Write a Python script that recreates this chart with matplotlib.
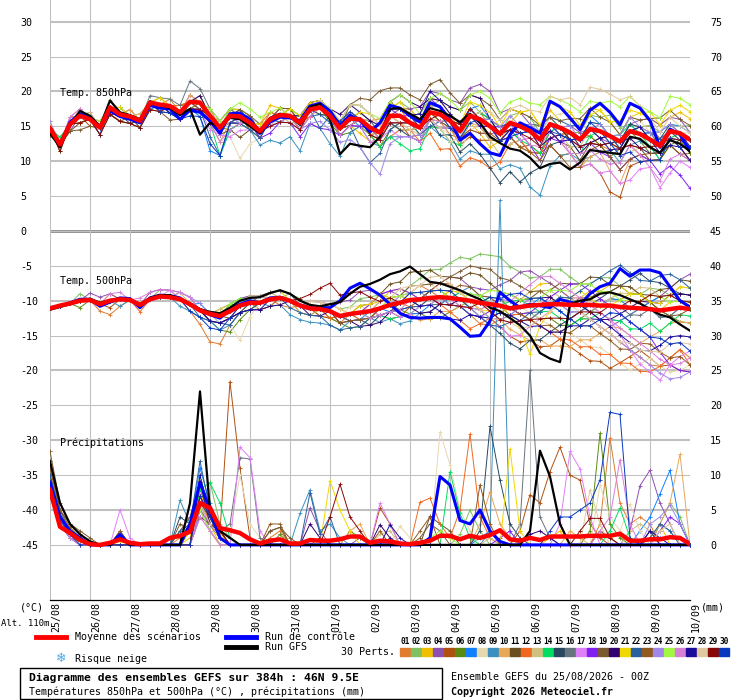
import numpy as np
import matplotlib.pyplot as plt
from matplotlib.lines import Line2D
from matplotlib.patches import Rectangle
from matplotlib.transforms import ScaledTranslation

plt.rcParams['font.family'] = ['DejaVu Sans Mono', 'DejaVu Sans']

# 6-hourly steps of the 384h GEFS run
hours = np.arange(0, 385, 6)
day_labels = ['25/08', '26/08', '27/08', '28/08', '29/08', '30/08', '31/08', '01/09',
              '02/09', '03/09', '04/09', '05/09', '06/09', '07/09', '08/09', '09/09', '10/09']

# Ensemble mean (red), control run (blue), GFS run (black)
t850_mean = [14.7, 12.4, 15.3, 16.5, 16.0, 14.8, 17.7, 16.7, 16.4, 15.8,
             18.4, 18.1, 17.9, 17.0, 18.5, 18.4, 16.5, 14.8, 16.5, 16.4,
             15.5, 14.3, 16.0, 16.6, 16.5, 15.5, 17.4, 17.7, 16.5, 14.7,
             16.1, 16.0, 14.8, 14.1, 16.5, 16.5, 15.5, 14.8, 17.0, 16.7,
             15.8, 14.3, 16.5, 16.0, 15.0, 13.9, 15.5, 15.0, 14.3, 13.1,
             15.3, 14.8, 14.1, 13.1, 14.6, 14.3, 13.6, 12.8, 14.3, 13.9,
             13.1, 12.2, 14.3, 14.0, 13.1]
t850_ctrl = [14.3, 12.2, 15.6, 16.8, 16.2, 15.0, 17.2, 16.4, 16.0, 15.5,
             18.0, 17.6, 17.5, 16.0, 17.3, 17.0, 15.8, 14.0, 16.8, 16.9,
             16.0, 14.0, 15.6, 16.3, 16.2, 15.8, 17.9, 18.3, 17.2, 15.1,
             16.6, 15.8, 14.2, 15.5, 18.0, 17.6, 16.5, 15.6, 18.4, 17.8,
             16.0, 13.0, 14.0, 12.5, 11.2, 10.8, 13.8, 15.5, 14.8, 14.0,
             18.6, 17.8, 16.2, 14.5, 17.3, 18.3, 17.0, 15.2, 18.3, 17.6,
             15.8, 12.0, 14.6, 13.8, 11.4]
t850_gfs = [14.0, 12.0, 15.0, 17.2, 16.5, 15.0, 18.7, 17.0, 16.6, 16.0,
            18.6, 18.0, 17.6, 16.6, 17.5, 13.8, 15.5, 14.9, 16.2, 16.0,
            15.0, 14.0, 16.2, 16.8, 16.5, 15.2, 17.8, 18.2, 16.0, 11.0,
            12.5, 12.2, 12.0, 13.5, 17.5, 17.6, 16.8, 16.0, 17.6, 17.2,
            16.5, 15.6, 16.8, 15.5, 13.5, 12.6, 11.8, 11.5, 10.5, 9.0,
            9.6, 9.8, 8.8, 9.8, 11.6, 11.4, 11.2, 11.0, 13.5, 13.2,
            12.0, 11.2, 13.0, 12.5, 11.4]

t500_mean = [-11.1, -10.7, -10.4, -10.0, -9.9, -10.5, -10.0, -9.8, -9.9, -10.6,
             -9.8, -9.4, -9.5, -9.8, -10.5, -11.4, -11.9, -12.2, -11.5, -10.7,
             -10.3, -10.3, -9.8, -9.6, -10.0, -10.7, -11.1, -11.2, -11.5, -12.2,
             -11.9, -11.7, -11.5, -11.1, -10.6, -10.3, -9.9, -9.8, -9.6, -9.5,
             -9.6, -9.8, -10.0, -10.3, -10.5, -10.7, -11.1, -10.9, -10.7, -10.6,
             -10.5, -10.5, -10.6, -10.6, -10.6, -10.7, -10.7, -10.9, -11.0, -11.1,
             -11.2, -11.4, -11.2, -11.0, -11.2]
t500_ctrl = [-11.0, -10.8, -10.3, -9.8, -9.8, -10.8, -10.2, -9.6, -9.7, -11.0,
             -9.6, -9.2, -9.3, -9.6, -10.6, -11.3, -12.0, -12.5, -11.2, -10.5,
             -10.0, -10.3, -9.6, -9.5, -10.0, -10.6, -11.0, -11.0, -11.0, -10.0,
             -8.2, -7.5, -8.3, -9.2, -10.5, -11.8, -12.4, -12.5, -12.4, -12.4,
             -12.6, -13.8, -15.1, -15.0, -12.9, -8.8, -10.0, -11.0, -10.5, -10.7,
             -11.0, -9.8, -10.2, -10.6, -9.0, -8.0, -7.5, -5.4, -6.5, -5.6,
             -5.6, -6.0, -8.0, -10.0, -10.9]
t500_gfs = [-11.3, -10.9, -10.5, -10.1, -9.7, -10.3, -9.9, -9.7, -9.8, -10.5,
            -9.6, -9.2, -9.2, -9.7, -10.4, -11.2, -11.6, -11.8, -11.0, -10.0,
            -9.6, -9.5, -8.9, -8.5, -9.0, -10.0, -10.6, -10.8, -10.5, -10.2,
            -9.0, -8.0, -7.6, -7.0, -6.2, -5.8, -5.1, -6.2, -7.3, -7.5,
            -8.0, -8.5, -9.2, -9.8, -11.0, -11.5, -12.5, -13.5, -15.0, -17.5,
            -18.3, -18.8, -10.5, -10.0, -9.8, -9.0, -8.8, -9.2, -9.8, -10.4,
            -11.2, -12.0, -12.4, -13.4, -14.3]

precip_mean = [7.9, 2.6, 1.7, 0.7, 0.1, 0.0, 0.3, 0.8, 0.3, 0.1,
               0.2, 0.2, 1.0, 1.3, 1.9, 6.0, 5.3, 2.4, 2.1, 1.7,
               0.8, 0.2, 0.6, 0.8, 0.2, 0.2, 0.7, 0.6, 0.6, 0.8,
               1.2, 1.2, 0.3, 0.6, 0.5, 0.2, 0.1, 0.3, 0.6, 1.3,
               1.3, 0.8, 1.3, 1.0, 1.4, 2.1, 0.8, 0.6, 1.0, 0.7,
               1.2, 1.2, 1.2, 1.2, 1.3, 1.3, 1.3, 1.6, 0.6, 0.6,
               0.8, 0.8, 1.1, 1.0, 0.1]
# precipitation (mm) by time step, dry steps are 0
precip_ctrl = {0: 9, 1: 4, 2: 2, 3: 1, 7: 1.5, 14: 3, 15: 9, 16: 5, 17: 1, 38: 1,
               39: 9.8, 40: 8.6, 41: 3.5, 42: 3, 43: 5, 44: 2, 45: 0.5}
precip_gfs = {0: 12, 1: 6, 2: 3, 3: 1.5, 4: 0.5, 7: 1, 14: 6, 15: 22, 16: 5, 17: 2,
              18: 1, 48: 2, 49: 13.5, 50: 9.8, 51: 3}

pert_colors = ['#E07B30', '#80C060', '#F0C000', '#8E50B0', '#B05010', '#5A8A10',
               '#1080FF', '#E8D8B0', '#3A90C0', '#E8A858', '#6A5020', '#F06820',
               '#D0C080', '#00DD60', '#284860', '#687480', '#E080F8', '#8020F0',
               '#7A5A30', '#300070', '#F0D800', '#2860A0', '#905A20', '#A088E8',
               '#A0F840', '#D880D8', '#1C0C9C', '#E0C8A0', '#880808', '#0838C0']

# 30 perturbations, T850 read as offset from the ensemble mean (degC), one day per group
t850_pert_dev = [
    "0 0 0 1 | 0 1 0 0 | 0 1 0 0 | 1 0 -1 0 | 1 0 -1 -1 | 0 1 1 0 | 1 0 -1 -1 | -1 0 1 0 | 1 2 2 1 | 0 1 0 -1 | -2 -1 0 1 | 0 -1 -2 -3 | -3 -2 -2 -1 | 0 1 -1 -2 | -2 -1 0 1 | 2 1 0 -1 | -1",
    "0 1 0 0 | 0 0 1 0 | 0 0 0 1 | 0 0 0 1 | 0 0 1 1 | 1 0 0 1 | 1 1 0 -1 | 0 -1 -1 0 | 1 0 1 2 | 2 1 1 2 | 2 3 2 1 | 1 0 1 2 | 2 1 0 -1 | 0 1 2 2 | 3 2 1 1 | 2 2 1 1 | 2",
    "1 0 0 -1 | 0 0 0 1 | 0 0 -1 0 | 0 1 0 0 | 0 -1 1 1 | 1 1 2 1 | 0 1 0 0 | 1 -1 -1 -2 | -2 -1 0 1 | 2 1 2 2 | 1 0 -1 -2 | -3 -1 0 2 | 3 2 2 1 | 1 2 3 3 | 2 1 2 3 | 3 3 2 3 | 3",
    "0 0 -1 0 | 1 0 0 1 | 0 0 0 0 | -1 0 1 0 | 0 0 -1 -1 | 0 -1 0 0 | 0 1 1 1 | 0 1 2 2 | 2 1 0 1 | 2 3 3 3 | 3 4 4 5 | 5 3 2 2 | 1 0 -1 0 | 1 1 0 -1 | -1 0 1 2 | 3 3 2 2 | 1",
    "0 0 0 0 | -1 0 0 0 | 1 0 0 0 | 0 1 0 -1 | 0 1 1 0 | -1 0 0 1 | 1 0 0 1 | 1 1 0 0 | -1 0 0 -1 | -2 -1 -1 -2 | -1 -2 -3 -3 | -2 -1 -2 -3 | -2 -2 -3 -4 | -3 -4 -5 -6 | -8 -8 -5 -4 | -3 -2 -2 -3 | -2",
    "0 -1 0 0 | 0 0 -1 -1 | -1 0 0 -1 | 0 -1 -1 0 | -1 0 -2 -1 | -1 -1 0 0 | -1 0 0 0 | -1 -1 -2 -1 | -1 -2 -2 -1 | 0 -1 -2 -2 | -1 0 0 1 | 1 1 0 0 | 1 2 1 0 | -1 0 -1 -2 | -3 -1 0 -1 | -2 -1 -2 -1 | -2",
    "0 0 0 0 | 0 -1 0 0 | 0 -1 -1 0 | 0 -1 -1 -2 | -5 -4 -2 -1 | 0 0 -1 -1 | 0 0 -1 -1 | -1 0 0 -1 | 0 1 1 1 | 1 0 1 1 | 0 1 1 2 | 1 0 -1 -1 | 0 1 1 1 | 1 2 2 1 | 0 0 1 0 | 1 2 1 1 | 1",
    "0 0 1 0 | 0 0 0 -1 | 0 0 0 0 | -1 0 0 -1 | -1 -2 -3 -6 | -3 -1 0 0 | -1 0 0 1 | 0 1 1 0 | 0 0 -1 -1 | 0 -1 -1 -2 | -2 -3 -2 -1 | 0 -1 -2 -1 | 0 1 1 2 | 3 2 0 -1 | 0 1 2 2 | 1 0 1 0 | 1",
    "0 0 0 0 | 0 0 -1 0 | 0 0 0 0 | -1 -1 0 0 | -1 -1 0 -1 | -1 -2 -3 -4 | -3 -4 -2 -3 | -4 -4 -2 -1 | -2 -2 -3 -3 | -2 -2 -2 -3 | -3 -4 -5 -5 | -4 -5 -6 -6 | -8 -8 -6 -4 | -3 -3 -4 -3 | -2 -3 -2 -1 | -1 -2 -1 -1 | -1",
    "0 0 0 1 | 0 0 0 0 | 1 0 0 1 | 0 0 1 0 | -1 -2 -1 0 | 0 0 -1 0 | 0 -1 0 0 | 0 0 -1 0 | -1 0 0 -1 | -1 0 1 0 | -1 -2 -1 -1 | -2 -1 -1 0 | 0 -1 -1 -2 | -3 -4 -4 -3 | -5 -6 -4 -3 | -3 -2 -1 0 | 0",
    "-1 0 -1 -1 | 0 -1 -1 -1 | -1 -1 0 -1 | -1 -1 -1 -1 | 0 -1 -2 -3 | -1 0 0 0 | 0 -1 -1 0 | 0 0 -1 0 | -1 -1 -1 -2 | -1 0 0 -1 | 0 1 0 -1 | -2 -1 -1 -2 | -3 -2 -1 -2 | -2 -3 -2 -1 | 0 -1 -2 -2 | -3 -2 -2 -3 | -3",
    "0 0 1 0 | 0 0 0 0 | 0 0 0 0 | 0 1 0 0 | 0 0 0 0 | 0 0 1 0 | 0 0 -1 0 | 0 0 0 0 | -1 -2 -3 -2 | -1 -2 -3 -5 | -4 -5 -6 -6 | -6 -4 -3 -2 | -3 -2 -2 -1 | 0 -1 -2 -2 | -1 -1 -2 -3 | -3 -2 -1 -2 | -3",
    "0 0 0 0 | 1 0 0 0 | 0 1 0 0 | 0 0 0 1 | 0 1 1 0 | 0 0 0 -1 | 0 0 1 0 | 0 1 0 1 | 1 0 -1 -2 | -1 -1 -2 -2 | -1 -1 0 -1 | -2 -3 -3 -2 | -1 0 0 -1 | -2 -1 0 0 | -1 -2 -3 -2 | -1 0 0 -1 | -1",
    "0 1 0 0 | 0 0 0 1 | 0 0 0 0 | 0 0 0 0 | -1 -4 -2 -1 | 0 0 0 0 | 1 1 0 0 | 0 1 0 0 | -1 -2 -3 -4 | -4 -3 -2 -2 | -3 -2 0 1 | 1 0 -1 -2 | -2 -2 -1 0 | -1 -2 -1 0 | 0 1 1 0 | -1 -2 -1 0 | 0",
    "0 0 0 0 | 0 0 0 0 | -1 0 0 0 | -1 0 0 0 | 0 0 0 1 | 0 -1 0 0 | 0 0 0 -1 | 0 0 -1 -1 | 0 -1 -1 -2 | -2 -2 -1 -3 | -2 -3 -4 -5 | -6 -7 -7 -8 | -6 -4 -3 -2 | 0 -1 -2 -2 | -1 0 1 1 | 0 1 1 0 | 0",
    "0 0 0 0 | 0 0 0 0 | 0 0 1 1 | 1 1 3 2 | 1 1 1 0 | 1 1 0 0 | 0 0 0 0 | 1 0 0 1 | 1 0 -1 -1 | 0 0 -1 -1 | 0 1 1 0 | 0 -1 -1 0 | 1 2 1 0 | -1 0 1 1 | 0 -1 0 1 | 1 0 -1 -1 | 0",
    "0 0 0 0 | 0 0 0 0 | 0 0 0 0 | 0 -1 -1 -1 | -2 -1 -3 -2 | -1 0 0 1 | 0 0 0 0 | 0 -1 -1 -1 | -2 -1 -2 -3 | -2 -2 -1 -2 | -1 -1 -2 -2 | -1 0 0 -2 | -1 0 0 -1 | -3 -4 -5 -6 | -5 -6 -7 -5 | -4 -6 -6 -4 | -4",
    "0 0 0 0 | 0 0 -1 0 | 0 0 0 0 | 0 0 0 -1 | 0 0 0 0 | 0 -1 -2 -1 | -1 -2 -2 -3 | -2 -1 -1 -1 | 0 1 1 0 | 1 2 2 1 | 0 1 1 0 | 0 1 0 -1 | -2 -3 -2 -2 | -1 -1 -2 -3 | -3 -4 -4 -3 | -3 -4 -5 -6 | -7",
    "-1 0 -1 -2 | -1 0 -1 -1 | 0 -1 -1 -1 | -2 -1 0 -1 | -1 0 0 1 | 1 0 0 1 | 1 0 0 1 | 1 0 2 3 | 4 6 4 4 | 4 4 4 5 | 4 4 3 3 | 3 2 2 2 | 2 2 1 1 | 2 3 3 2 | 2 1 2 2 | 3 4 3 2 | 2",
    "0 0 0 0 | 0 0 0 0 | 0 0 0 0 | 0 0 0 1 | 0 0 -1 -1 | 0 0 0 0 | 0 1 1 1 | 1 2 2 1 | 1 1 2 3 | 3 3 2 2 | 2 3 3 3 | 1 0 -1 -1 | 0 -1 -2 -1 | -1 -2 -2 -1 | 0 0 -1 -2 | -2 -1 0 0 | -1",
    "0 0 0 0 | 0 0 0 1 | 0 0 0 1 | 0 0 0 0 | 0 0 0 0 | 0 1 0 0 | 1 1 1 1 | 1 1 0 1 | 2 1 1 2 | 1 0 -1 -1 | 0 1 2 2 | 2 1 2 2 | 3 2 3 3 | 3 2 2 3 | 2 3 3 3 | 4 3 3 4 | 4",
    "0 0 0 0 | 0 -1 0 0 | 0 0 0 0 | 0 0 -1 -1 | -3 -4 -1 -1 | -1 -1 0 -1 | 0 0 0 -3 | 0 -1 -1 -4 | -5 -3 -2 -1 | 0 -1 -2 -1 | -1 0 1 0 | 1 1 0 -1 | 0 0 -1 -1 | -1 0 1 1 | 0 -1 0 0 | 1 1 0 -1 | -1",
    "0 0 0 -1 | 0 0 0 0 | 0 0 0 0 | 0 0 0 0 | -1 0 -1 0 | 0 0 0 0 | 0 -1 0 0 | 0 0 -1 0 | 0 -1 -1 -1 | 0 0 0 -1 | -1 -1 -2 -2 | -1 -1 -2 -3 | -3 -3 -3 -4 | -5 -4 -3 -2 | -3 -4 -4 -3 | -2 -1 -1 -2 | -3",
    "1 0 1 1 | 0 1 0 0 | 0 0 0 0 | 0 0 0 0 | 0 0 0 -1 | 0 0 -1 -1 | -1 -1 -2 -2 | -2 -2 -3 -4 | -5 -6 -4 -3 | -2 -1 -1 -2 | -1 0 0 0 | 1 1 1 0 | 1 1 0 0 | 1 0 0 1 | 0 1 2 1 | 1 2 1 0 | 0",
    "0 0 0 0 | 0 1 0 0 | 0 0 0 0 | 0 0 0 0 | 1 1 1 2 | 2 2 1 1 | 0 0 0 1 | 1 1 2 2 | 2 2 2 3 | 3 2 2 3 | 3 3 3 4 | 4 3 3 4 | 4 5 4 4 | 4 4 4 4 | 5 5 5 4 | 4 4 5 5 | 5",
    "0 0 1 1 | 0 0 0 0 | 0 0 0 0 | 0 0 0 0 | -1 -2 -2 -1 | 0 0 -1 -1 | 0 -1 -1 0 | 0 -1 -1 0 | 0 -1 -1 -1 | 0 0 -1 -1 | 0 0 0 -1 | 0 -1 -1 -1 | -2 -1 -1 -2 | -3 -2 -3 -4 | -4 -3 -2 -3 | -4 -5 -4 -3 | -3",
    "0 0 0 0 | 0 0 0 0 | 0 0 0 0 | -1 -1 -1 -1 | -1 0 0 0 | 0 0 0 0 | 0 0 0 0 | 0 0 0 0 | 0 0 1 1 | 1 2 3 2 | 1 1 0 -1 | 0 -1 -1 0 | 0 0 -1 -2 | -1 0 0 -1 | -2 -1 0 1 | 0 -1 -2 -2 | -3",
    "0 0 0 0 | 0 0 0 0 | 0 0 0 0 | 0 0 0 0 | 0 0 -1 0 | 0 0 0 0 | 0 0 0 1 | 1 1 2 2 | 2 1 0 -1 | -1 0 -1 -2 | -3 -1 0 1 | 2 2 2 3 | 3 4 4 4 | 5 5 6 6 | 6 6 5 4 | 3 2 2 1 | 1",
    "0 -1 0 -1 | 0 -1 -1 -1 | -1 -1 -1 -1 | 0 -1 -1 -1 | 0 0 0 0 | 0 0 -1 -1 | -1 -1 0 0 | 0 0 0 0 | -1 -1 -1 -1 | 0 0 -1 0 | 0 1 1 0 | 0 0 -1 -1 | -1 -1 0 0 | -1 -1 -2 -2 | -1 -1 -2 -2 | -1 0 -1 -1 | 0",
    "0 0 0 0 | 0 0 0 0 | 0 0 0 -1 | -1 -1 -2 -2 | -4 -4 -1 0 | 0 0 0 0 | 0 0 0 0 | 0 1 1 0 | 0 0 1 1 | 1 0 0 0 | -1 -1 -1 0 | 0 -1 -2 -1 | 0 1 0 -1 | -1 0 1 0 | -1 -2 -3 -4 | -3 -2 -1 -2 | -1",
]

# 30 perturbations, T500 offset from the ensemble mean (degC)
t500_pert_dev = [
    "0 0 0 0 | 0 -1 -2 -1 | 0 0 0 0 | 0 0 -1 -2 | -4 -4 -2 -1 | -1 0 0 -1 | -1 0 0 -1 | -1 -1 0 0 | 0 -1 -1 0 | 1 2 1 0 | -1 -1 -2 -3 | -3 -2 -1 -1 | -2 -3 -4 -4 | -3 -2 -2 -3 | -4 -5 -6 -7 | -8 -8 -7 -6 | -7",
    "0 0 0 1 | 0 0 0 0 | 0 0 0 1 | 1 0 0 0 | 0 1 1 1 | 1 0 0 0 | 1 1 0 0 | 1 1 1 2 | 2 2 1 1 | 2 3 4 4 | 5 6 6 7 | 7 7 6 5 | 4 4 5 5 | 4 3 3 4 | 4 3 2 2 | 3 3 2 2 | 2",
    "0 0 0 0 | 0 0 1 0 | 0 0 0 0 | 0 0 0 0 | 0 1 1 0 | 0 0 1 1 | 0 0 0 0 | 1 1 0 0 | 1 1 2 2 | 1 1 0 0 | 1 1 0 -1 | -2 -1 0 1 | 2 3 3 2 | 1 1 2 2 | 3 3 2 2 | 1 0 1 1 | 0",
    "0 0 0 0 | 1 1 1 0 | 0 0 1 1 | 1 1 1 0 | 0 0 1 1 | 1 1 0 0 | 0 0 1 1 | 1 2 2 3 | 3 2 2 1 | 0 0 1 2 | 3 3 2 2 | 2 3 4 5 | 5 4 3 2 | 1 0 -1 -2 | -3 -2 -1 0 | 1 2 3 4 | 5",
    "0 0 0 0 | 0 0 -1 0 | 0 0 0 0 | 0 0 0 0 | 0 0 0 0 | 0 -1 -1 0 | 0 0 0 -1 | -1 0 0 -1 | -1 -1 -2 -2 | -1 0 1 2 | 2 1 0 -1 | -2 -3 -4 -5 | -5 -6 -6 -5 | -6 -7 -8 -8 | -9 -8 -7 -6 | -7 -8 -8 -9 | -9",
    "0 0 0 -1 | 0 0 0 0 | 0 0 0 0 | 0 0 0 0 | -1 -2 -3 -2 | -1 0 0 0 | 0 -1 -1 0 | -1 -1 -2 -2 | -1 0 0 -1 | -2 -2 -3 -3 | -2 -1 0 0 | 1 1 0 -1 | -1 -2 -2 -3 | -3 -2 -1 0 | 1 1 2 2 | 1 0 -1 -2 | -2",
    "0 0 0 0 | 0 0 0 0 | 0 0 0 0 | 0 0 0 1 | 0 -1 -1 0 | 0 0 0 0 | 0 0 0 0 | 0 0 -1 -1 | 0 0 -1 -2 | -2 -2 -1 -1 | 0 0 -1 -1 | -2 -1 -1 0 | 0 1 0 -1 | -2 -1 0 0 | 1 1 0 0 | 1 2 2 1 | 1",
    "0 0 0 0 | 0 0 0 0 | 0 0 0 0 | 0 0 0 0 | 0 -1 -2 -5 | -2 0 1 0 | 0 0 0 0 | 0 0 1 1 | 0 0 0 1 | 1 2 2 1 | 1 0 0 1 | 2 2 1 0 | -1 -2 -3 -4 | -4 -5 -6 -6 | -7 -8 -9 -8 | -7 -8 -9 -9 | -8",
    "0 0 0 0 | 0 0 0 -1 | 0 0 0 0 | 0 -1 -1 -1 | -1 -2 -2 -1 | 0 0 -1 -1 | -2 -2 -2 -2 | -2 -2 -1 -1 | -1 -2 -2 -3 | -3 -2 -2 -1 | 0 1 2 1 | 1 0 -1 -2 | -2 -1 0 1 | 1 0 -1 -1 | -2 -2 -1 0 | 0 -1 -1 0 | 0",
    "0 0 0 0 | 0 0 0 0 | 0 0 0 0 | 0 1 0 0 | 0 0 0 0 | 0 0 0 0 | 0 -1 -1 0 | 0 0 0 0 | -1 -1 -1 -2 | -2 -3 -3 -2 | -2 -1 0 0 | -1 -2 -3 -4 | -5 -5 -6 -6 | -6 -5 -5 -4 | -3 -3 -4 -5 | -4 -3 -2 -2 | -2",
    "0 0 0 0 | 0 0 0 0 | 0 0 0 0 | 0 0 0 0 | 0 0 -1 -1 | 0 0 0 0 | 0 0 0 0 | 0 0 0 1 | 1 2 3 3 | 4 4 4 3 | 3 3 4 4 | 3 2 2 1 | 1 2 2 3 | 3 3 4 4 | 3 3 3 2 | 2 3 3 4 | 4",
    "0 0 0 0 | 0 0 0 0 | 0 -1 0 0 | 0 0 0 0 | -1 -1 -1 0 | 0 0 0 0 | 0 0 0 0 | -1 0 0 0 | 0 0 0 0 | -1 -1 0 -1 | -2 -3 -4 -3 | -2 -2 -1 -1 | -2 -3 -4 -5 | -5 -6 -6 -7 | -7 -8 -8 -9 | -9 -8 -7 -6 | -8",
    "0 0 0 0 | 0 0 0 0 | 0 0 0 0 | 0 0 0 0 | 0 1 1 0 | 1 1 1 0 | 0 0 1 1 | 0 0 0 0 | 0 0 1 1 | 1 0 0 0 | 0 -1 -1 -1 | 0 0 1 1 | 2 2 2 1 | 1 0 0 0 | 1 2 2 3 | 3 2 2 3 | 3",
    "0 0 0 0 | 0 0 0 0 | 0 0 0 0 | 0 0 0 0 | 0 0 1 1 | 0 0 0 0 | 0 0 0 0 | 0 0 0 0 | -1 -1 -2 -2 | -2 -1 -1 0 | 0 1 1 1 | 0 0 1 1 | 0 -1 -1 -2 | -3 -2 -2 -1 | -2 -2 -3 -3 | -2 -3 -2 -1 | -1",
    "0 0 0 0 | 0 0 0 0 | 0 0 0 0 | 0 0 0 0 | 0 0 0 0 | 0 0 0 0 | 0 0 0 0 | 0 0 -1 -1 | -2 -1 -1 0 | 0 0 1 1 | 0 0 -1 -2 | -3 -4 -5 -6 | -5 -5 -4 -3 | -2 -1 0 1 | 2 3 4 5 | 4 4 3 2 | 2",
    "0 0 0 0 | 0 0 0 0 | 0 0 0 0 | 0 0 0 0 | 0 0 0 0 | 0 1 1 1 | 1 0 0 0 | 0 0 -1 -1 | -1 0 0 0 | 0 -1 -1 -1 | -1 0 0 0 | 0 0 -1 -2 | -2 -1 0 0 | -1 -1 0 0 | 0 0 -1 -1 | 0 -1 -1 0 | 0",
    "0 0 0 0 | 0 0 0 0 | 0 0 0 0 | 1 0 0 0 | 0 0 0 0 | 0 0 0 0 | 0 0 0 0 | 0 0 0 0 | 0 -1 -1 -2 | -2 -1 -1 0 | 0 -1 -2 -2 | -3 -3 -4 -4 | -3 -2 -1 0 | 1 1 0 -1 | -2 -4 -6 -8 | -9 -10 -8 -7 | -6",
    "0 0 0 0 | 0 0 0 0 | 0 0 0 0 | 0 0 0 0 | 0 0 0 0 | 0 0 0 0 | 0 0 0 0 | 0 0 0 0 | 1 2 2 2 | 1 0 0 -1 | -1 -1 -2 -2 | -1 0 0 -1 | -1 0 1 2 | 3 3 2 1 | 0 -1 -2 -3 | -4 -6 -8 -9 | -9",
    "0 0 0 0 | 0 0 0 0 | 0 0 0 0 | 0 0 0 0 | 0 0 0 0 | 0 0 0 0 | 0 0 0 0 | 0 0 0 0 | 0 1 1 1 | 2 2 2 2 | 3 4 5 5 | 5 4 4 3 | 2 2 1 0 | 0 1 1 2 | 2 3 3 2 | 1 0 -1 -1 | 0",
    "0 0 0 0 | 0 0 0 0 | 0 0 0 0 | 0 0 0 0 | -1 -1 -1 -1 | -1 -1 -1 -1 | 0 0 -1 -1 | 0 -1 -1 -2 | -2 -2 -1 -1 | -1 -2 -2 -1 | -1 0 0 0 | 0 0 0 1 | 1 1 1 0 | 0 0 -1 -2 | -2 -1 0 1 | 1 1 2 2 | 2",
    "0 0 0 0 | 0 0 0 0 | 0 0 0 0 | 0 0 0 0 | 0 0 0 0 | 0 0 0 0 | 0 0 0 0 | 0 0 0 1 | 1 2 1 1 | 0 0 0 0 | 1 1 0 -1 | -1 0 -1 -3 | -7 -3 -1 0 | 1 2 1 0 | 0 1 2 2 | 1 1 2 3 | 3",
    "0 0 0 0 | 0 0 0 0 | 0 0 0 0 | 0 0 0 -1 | -1 -1 -2 -1 | -1 0 0 0 | -1 -1 -1 -1 | -2 -2 -2 -2 | -1 -1 -1 -1 | -1 -1 0 0 | -1 -1 -2 -2 | -3 -3 -2 -2 | -1 -1 0 1 | 1 2 3 4 | 5 6 5 4 | 4 5 5 4 | 3",
    "0 0 0 0 | 0 0 0 0 | 0 0 0 0 | 0 0 0 0 | 0 0 0 0 | 0 0 0 0 | 0 0 0 0 | 0 -1 -1 -1 | -1 0 0 0 | 0 0 1 1 | 1 2 2 1 | 1 0 0 -1 | -2 -3 -3 -4 | -4 -3 -3 -4 | -5 -6 -6 -5 | -5 -6 -7 -7 | -8",
    "0 0 0 0 | 0 0 0 0 | 0 0 0 0 | 0 1 1 1 | 0 0 0 0 | 0 0 0 0 | 0 0 0 0 | 0 0 0 0 | 0 0 0 1 | 1 1 0 0 | -1 -1 -1 -2 | -2 -2 -1 0 | 1 1 0 0 | -1 -1 -2 -3 | -4 -5 -6 -7 | -8 -9 -10 -10 | -9",
    "0 0 0 0 | 0 0 0 0 | 0 0 0 0 | 0 0 0 0 | 0 0 1 1 | 0 0 0 0 | 0 0 0 0 | 0 0 0 0 | 0 0 1 1 | 1 1 1 1 | 0 0 1 1 | 2 2 2 1 | 1 1 2 2 | 2 3 3 2 | 2 1 1 1 | 2 2 1 1 | 1",
    "0 0 0 0 | 0 0 1 1 | 0 1 1 1 | 1 1 1 0 | 0 0 0 0 | 0 0 0 0 | 0 0 0 0 | 0 0 0 0 | -1 -1 -1 -1 | 0 0 0 0 | 0 -1 -1 -1 | 0 1 1 2 | 3 4 4 3 | 2 1 0 -1 | -2 -3 -4 -5 | -6 -7 -8 -8 | -7",
    "0 0 0 0 | 0 0 0 0 | 0 0 0 0 | 0 0 0 0 | -1 -1 -1 -1 | -1 -1 0 0 | 0 0 0 0 | 0 0 0 0 | 0 0 0 0 | 0 -1 -1 -2 | -3 -3 -2 -2 | -2 -1 -1 -2 | -3 -3 -4 -4 | -3 -3 -2 -2 | -3 -4 -5 -6 | -6 -5 -4 -4 | -4",
    "0 0 0 0 | 0 0 0 0 | 0 0 0 0 | 0 0 0 0 | 0 0 0 0 | 0 0 0 0 | 0 0 1 1 | 1 1 0 0 | 0 1 1 2 | 2 2 3 3 | 2 1 0 -1 | -2 -2 -2 -3 | -3 -2 -1 0 | 0 -1 -2 -3 | -4 -5 -5 -6 | -6 -6 -5 -5 | -5",
    "0 0 0 0 | 0 0 0 0 | 0 0 0 0 | 0 0 0 0 | 0 0 0 0 | 0 0 0 0 | 0 1 2 3 | 4 3 3 3 | 2 1 1 0 | 0 0 0 -1 | -1 -1 -1 0 | -1 -2 -2 -2 | -2 -2 -2 -2 | -2 -1 -1 -1 | 0 0 1 1 | 2 2 2 1 | 1",
    "0 0 0 0 | 0 0 0 0 | 0 0 0 0 | 0 0 -1 -1 | -2 -2 -1 0 | 0 0 0 0 | 0 0 0 0 | 0 0 0 0 | 0 0 0 0 | 1 1 1 1 | 1 0 0 0 | 1 1 2 2 | 1 1 0 -1 | -2 -3 -3 -2 | -1 -1 -2 -3 | -4 -4 -5 -5 | -6",
]

# 30 perturbations, precipitation (mm) at the wet time steps
precip_pert = [
    {0: 9.5, 1: 4, 2: 2, 3: 1, 13: 1, 14: 3, 15: 7, 16: 4, 17: 2, 22: 1, 23: 2, 55: 3, 56: 15.3, 57: 6, 58: 3, 59: 4, 60: 3},
    {0: 8, 1: 3.5, 2: 1.5, 3: 0.5, 14: 2, 15: 5, 16: 9, 17: 3, 18: 1, 41: 1.5, 42: 5, 43: 2, 61: 3, 62: 6, 63: 4},
    {0: 10, 1: 4, 2: 2.5, 3: 1, 7: 0.5, 14: 1, 15: 8, 16: 3, 50: 1, 51: 2, 60: 1, 61: 3},
    {0: 7, 1: 3, 2: 1, 3: 0.5, 15: 6, 16: 3, 17: 1, 26: 5.3, 27: 2, 31: 1, 58: 2, 59: 8.5, 60: 10.7, 61: 6, 62: 3},
    {0: 11, 1: 5, 2: 2, 3: 1, 7: 2, 15: 5, 16: 3, 17: 2, 18: 23.4, 19: 11, 20: 1, 33: 5.3, 34: 3, 47: 2, 48: 7.2, 49: 6, 50: 10.5, 51: 14, 52: 10, 53: 9.3, 54: 3, 55: 1},
    {0: 8, 1: 4, 2: 2, 3: 1, 14: 2, 15: 6, 16: 3, 17: 1, 23: 1.5, 30: 2, 31: 1, 54: 2, 55: 16, 56: 3, 57: 1},
    {0: 7.5, 1: 3, 2: 1, 14: 3, 15: 11, 16: 6, 17: 2, 43: 1, 44: 2, 59: 2, 60: 4, 61: 7.3, 62: 10.7, 63: 3},
    {0: 9, 1: 4, 2: 2, 3: 1, 15: 4, 16: 2, 18: 2, 19: 10, 20: 3, 21: 1, 35: 2.7, 36: 1, 39: 16.2, 40: 11.5, 41: 5, 42: 2, 55: 8.6, 56: 4, 57: 2, 58: 5.8, 59: 2},
    {0: 10, 1: 5, 2: 2, 3: 1, 13: 6.4, 14: 3, 15: 8, 16: 4, 17: 1, 25: 4.5, 26: 7.9, 27: 2, 28: 3, 29: 1, 44: 2, 45: 49.4, 46: 1, 61: 3, 62: 2},
    {0: 8.5, 1: 3, 2: 1.5, 3: 0.5, 14: 2, 15: 5, 16: 2, 30: 2, 31: 3, 43: 3, 44: 7.6, 45: 3, 46: 1, 52: 2, 53: 1, 61: 3, 62: 6, 63: 13},
    {0: 12, 1: 5, 2: 3, 3: 1.5, 4: 0.5, 13: 2, 14: 4, 15: 9, 16: 4, 17: 2, 22: 2, 23: 2.5, 38: 4.1, 39: 3, 40: 2, 55: 2, 56: 1},
    {0: 9, 1: 4, 2: 1.5, 3: 0.5, 15: 7, 16: 3, 17: 1, 27: 1, 37: 6.1, 38: 6.7, 39: 3, 40: 1, 41: 5, 42: 15.9, 43: 4, 44: 1},
    {0: 7, 1: 3, 2: 1, 14: 2, 15: 4, 16: 3, 17: 1, 33: 1.5, 34: 2, 44: 1, 58: 2, 59: 3, 60: 2},
    {0: 8, 1: 3, 2: 1, 3: 0.5, 15: 8, 16: 8.9, 17: 6, 18: 1, 40: 10.5, 41: 4.5, 42: 1, 56: 2, 57: 5.3, 58: 1},
    {0: 10, 1: 4.5, 2: 2, 3: 1, 13: 4, 14: 3, 15: 6, 16: 4, 17: 1, 43: 2, 44: 17, 45: 9.3, 46: 3, 47: 1},
    {0: 9, 1: 4, 2: 2, 3: 1, 15: 5, 16: 3, 17: 2, 18: 3, 19: 12.5, 20: 12.3, 21: 1, 47: 3, 48: 25, 49: 4, 50: 1},
    {0: 8, 1: 3.5, 2: 1.5, 3: 0.5, 7: 5, 8: 1, 15: 6, 16: 2, 19: 14, 20: 12.5, 21: 2, 33: 6, 34: 3, 51: 3, 52: 13.4, 53: 10.9, 54: 4},
    {0: 7, 1: 3, 2: 1, 15: 4, 16: 3, 17: 1, 45: 1, 46: 2, 61: 2, 62: 4, 63: 3},
    {0: 13.4, 1: 6, 2: 3, 3: 2, 4: 1, 7: 2, 13: 3, 14: 2, 15: 4, 16: 3, 17: 2, 22: 2, 23: 2.5, 24: 1, 37: 1, 38: 3, 39: 2},
    {0: 9, 1: 4, 2: 2, 3: 1, 15: 9, 16: 3, 17: 1, 26: 3, 27: 1, 33: 2.9, 34: 1, 48: 1.5, 49: 2, 50: 1, 60: 2},
    {0: 8, 1: 3, 2: 1.5, 14: 2, 15: 10, 16: 4, 17: 1.5, 28: 9.2, 29: 5, 30: 2, 46: 13.8, 47: 2},
    {0: 10, 1: 4, 2: 2, 3: 1, 13: 2, 14: 3, 15: 12, 16: 5, 17: 1, 26: 7.5, 27: 1.5, 28: 4, 60: 1, 61: 3, 62: 2},
    {0: 11, 1: 5, 2: 2.5, 3: 1, 15: 7, 16: 4, 17: 2, 22: 3, 23: 3, 33: 2, 37: 2, 38: 4, 43: 8.6, 44: 3},
    {0: 8, 1: 3, 2: 1, 15: 5, 16: 2, 60: 3, 61: 4, 62: 5.7, 63: 3},
    {0: 9, 1: 3.5, 2: 1.5, 3: 0.5, 14: 2, 15: 5, 16: 2, 38: 1, 39: 2, 40: 1},
    {0: 8, 1: 3, 2: 1, 15: 4, 16: 2, 55: 2, 56: 4, 57: 12.2, 58: 3},
    {0: 9, 1: 4, 2: 2, 3: 1, 15: 10, 16: 4, 17: 1, 34: 2.9, 35: 1, 60: 2, 61: 1},
    {0: 9, 1: 4, 2: 2, 3: 1, 15: 6, 16: 3, 17: 1, 54: 7.9, 55: 3, 61: 2, 62: 3},
    {0: 9, 1: 4, 2: 2, 3: 1, 15: 7, 16: 4, 17: 2, 28: 4, 29: 8.7, 30: 4, 31: 2, 53: 2, 54: 3.8, 55: 3.8, 56: 1},
    {0: 8, 1: 3.5, 2: 1.5, 15: 7, 16: 4, 17: 1, 50: 2, 51: 4, 52: 4, 53: 5, 54: 6, 55: 9.3, 56: 19, 57: 18.7, 58: 1},
]

PRECIP_BASE = -45  # precipitation 0 mm sits on the -45 line of the temperature scale
W, H = 740, 700


def parse_rows(rows, name):
    out = []
    for i, r in enumerate(rows):
        vals = np.array(r.replace('|', ' ').split(), dtype=float)
        assert vals.size == len(hours), f'{name} member {i + 1}: {vals.size}'
        out.append(vals)
    return np.array(out)


def rain_series(wet):
    vals = np.zeros(len(hours))
    for k, v in wet.items():
        vals[k] = v
    return vals


t850_pert = np.array(t850_mean) + parse_rows(t850_pert_dev, 't850')
t500_pert = np.array(t500_mean) + parse_rows(t500_pert_dev, 't500')
rain_pert = np.array([rain_series(d) for d in precip_pert])

fig = plt.figure(figsize=(W / 100, H / 100), dpi=100)
ax = fig.add_axes([50 / W, 100 / H, 640 / W, 600 / H])
ax.set_xlim(0, 384)
ax.set_ylim(-52.9, 33.1)

# grid
for v in range(-45, 31, 5):
    if v == 0:
        ax.axhline(v, color='#8a8a8a', lw=2.0, zorder=1)
        ax.axhline(v, color='#d8d8d8', lw=0.5, zorder=1)
    else:
        ax.axhline(v, color='#c0c0c0', lw=1.5 if v % 10 == 0 else 0.75, zorder=1)
for h in range(0, 385, 24):
    ax.axvline(h, color='#c0c0c0', lw=0.75, zorder=1)

for s in ['left', 'right', 'top']:
    ax.spines[s].set_visible(False)
ax.spines['bottom'].set_color('black')
ax.spines['bottom'].set_linewidth(0.9)

# perturbations
for i in range(30):
    kw = dict(color=pert_colors[i], lw=0.7, marker='+', ms=2.6, mew=0.6, zorder=2)
    ax.plot(hours, t850_pert[i], **kw)
    ax.plot(hours, t500_pert[i], **kw)
    ax.plot(hours, PRECIP_BASE + rain_pert[i], **kw)

# control and GFS runs
for t850, t500, rain, col, lw in [(t850_ctrl, t500_ctrl, precip_ctrl, '#0000FF', 2.2),
                                  (t850_gfs, t500_gfs, precip_gfs, 'black', 1.6)]:
    ax.plot(hours, t850, color=col, lw=lw, zorder=3)
    ax.plot(hours, t500, color=col, lw=lw, zorder=3)
    ax.plot(hours, PRECIP_BASE + rain_series(rain), color=col, lw=lw, zorder=3)

# ensemble mean
ax.plot(hours, t850_mean, color='#FF0000', lw=3.2, zorder=4)
ax.plot(hours, t500_mean, color='#FF0000', lw=3.2, zorder=4)
ax.plot(hours, PRECIP_BASE + np.array(precip_mean), color='#FF0000', lw=3.2, zorder=4)

fs = 7.2
ax.text(6, 19.7, 'Temp. 850hPa', fontsize=fs, va='center', zorder=5)
ax.text(6, -7.2, 'Temp. 500hPa', fontsize=fs, va='center', zorder=5)
ax.text(6, -30.4, 'Précipitations', fontsize=fs, va='center', zorder=5)

# left scale (degC), right scale (mm)
left_ticks = list(range(-45, 31, 5))
ax.set_yticks(left_ticks, [str(v) for v in left_ticks], fontsize=fs, ha='left')
ax.tick_params(axis='y', length=0, pad=30 * 0.72)
ax2 = ax.twinx()
ax2.set_ylim(-52.9 - PRECIP_BASE, 33.1 - PRECIP_BASE)
right_ticks = list(range(0, 76, 5))
ax2.set_yticks(right_ticks, [str(v) for v in right_ticks], fontsize=fs)
ax2.tick_params(axis='y', length=0, pad=20 * 0.72)
for s in ax2.spines.values():
    s.set_visible(False)

ax.set_xticks(np.arange(0, 385, 24), day_labels, rotation=90, fontsize=fs, va='top')
ax.tick_params(axis='x', length=0, pad=1.5)
for lbl in ax.get_xticklabels():
    lbl.set_transform(lbl.get_transform() + ScaledTranslation(6 / 100, 0, fig.dpi_scale_trans))


def fx(x):
    return x / W


def fy(y):
    return 1 - y / H


fig.text(fx(20), fy(607), '(°C)', fontsize=fs, va='center')
fig.text(fx(701), fy(607), '(mm)', fontsize=fs, va='center')
fig.text(fx(1), fy(623), 'Alt. 110m', fontsize=6.5, va='center')

# legend
fig.add_artist(Line2D([fx(36), fx(66)], [fy(637)] * 2, color='#FF0000', lw=3.5))
fig.text(fx(75), fy(637), 'Moyenne des scénarios', fontsize=fs, va='center')
fig.add_artist(Line2D([fx(226), fx(256)], [fy(637)] * 2, color='#0000FF', lw=3.5))
fig.text(fx(265), fy(637), 'Run de contrôle', fontsize=fs, va='center')
fig.add_artist(Line2D([fx(226), fx(256)], [fy(647)] * 2, color='black', lw=3.5))
fig.text(fx(265), fy(647), 'Run GFS', fontsize=fs, va='center')
fig.text(fx(61), fy(658), '❄', fontsize=9, color='#4AA8E8', ha='center', va='center',
         family=['DejaVu Sans'])
fig.text(fx(75), fy(659), 'Risque neige', fontsize=fs, va='center')
fig.text(fx(341), fy(652), '30 Perts.', fontsize=fs, va='center')
for i, c in enumerate(pert_colors):
    x0 = 400 + 11 * i
    fig.add_artist(Rectangle((fx(x0), fy(656)), 10 / W, 8 / H, color=c,
                             transform=fig.transFigure))
    fig.text(fx(x0 + 5), fy(641), f'{i + 1:02d}', fontsize=5.6, weight='bold',
             ha='center', va='center')

fig.add_artist(Rectangle((fx(20), fy(699)), 422 / W, 31 / H, fill=False,
                         edgecolor='black', lw=1.0, transform=fig.transFigure))
fig.text(fx(29), fy(678), 'Diagramme des ensembles GEFS sur 384h : 46N 9.5E',
         fontsize=8.2, weight='bold', va='center')
fig.text(fx(29), fy(692), 'Températures 850hPa et 500hPa (°C) , précipitations (mm)',
         fontsize=fs, va='center')
fig.text(fx(451), fy(677), 'Ensemble GEFS du 25/08/2026 - 00Z', fontsize=fs, va='center')
fig.text(fx(451), fy(692), 'Copyright 2026 Meteociel.fr', fontsize=fs, weight='bold',
         va='center')

fig.savefig('out.png', dpi=100)
